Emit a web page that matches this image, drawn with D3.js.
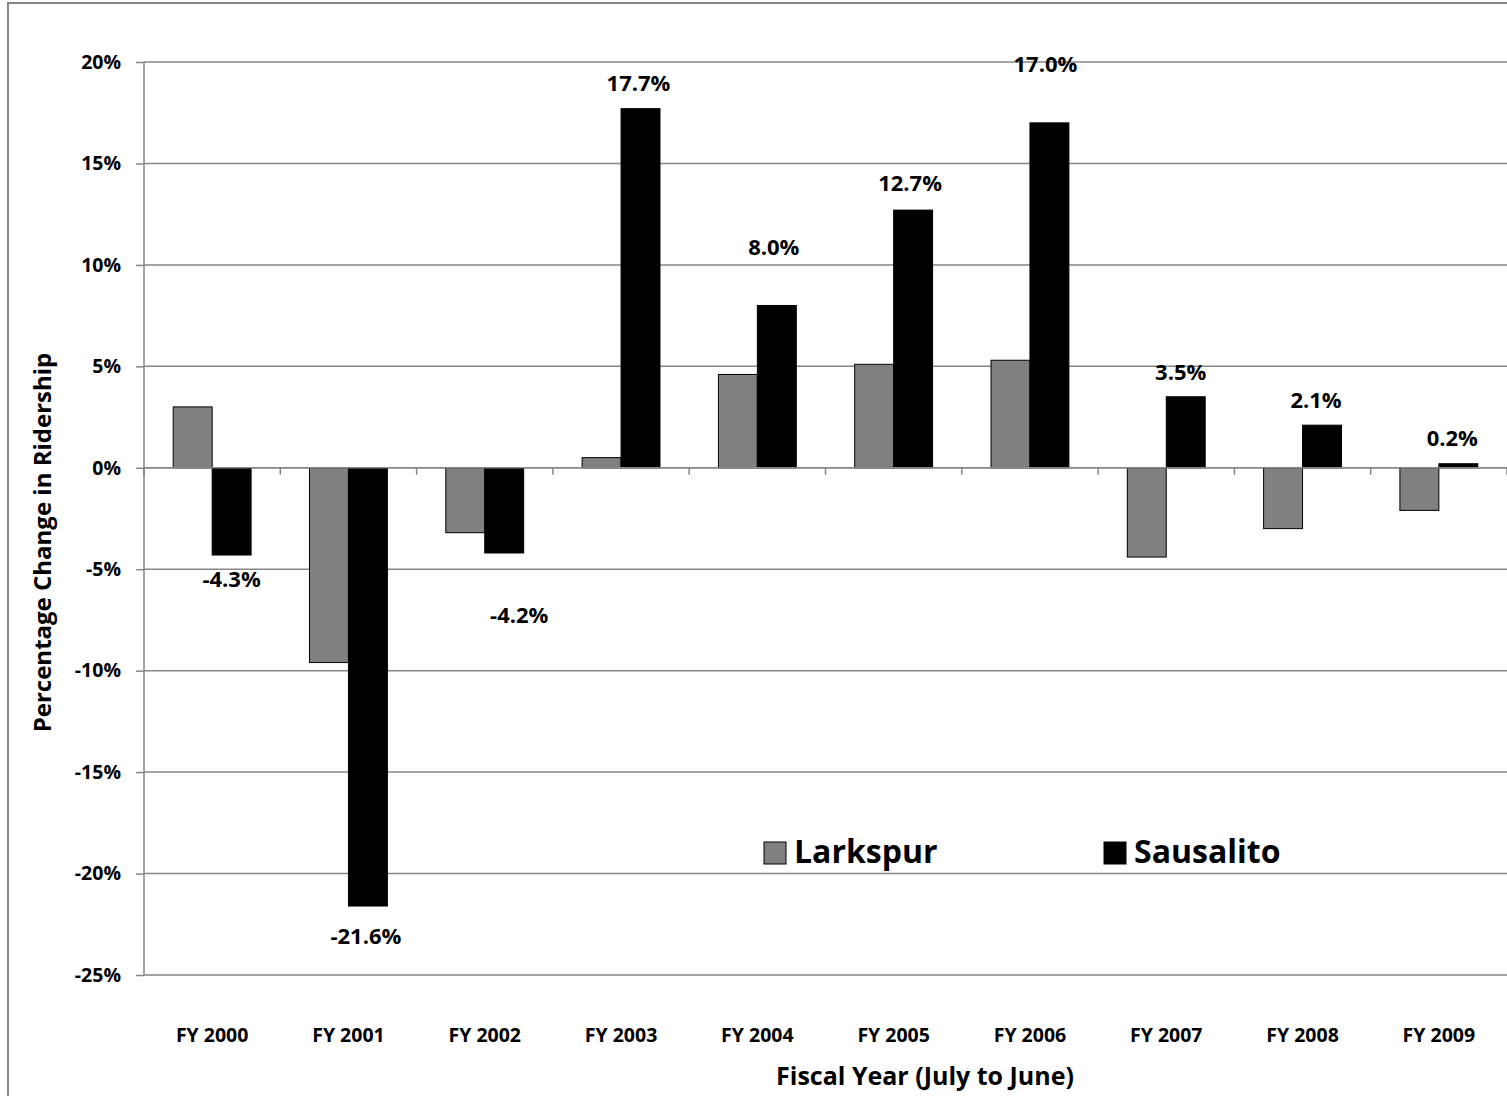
<!DOCTYPE html>
<html>
<head>
<meta charset="utf-8">
<style>
    body { margin: 0; background: #fff; }
    svg { display: block; font-family: 'Open Sans', 'Liberation Sans', sans-serif; font-weight: bold; }
    .y .domain { display: none; }
    .y .tick line { stroke: #868686; stroke-width: 1.5px; }
    .y .tick text { font-family: 'Open Sans', sans-serif; font-size: 19.5px; fill: #000; font-weight: bold; }
    .x .domain { display: none; }
    .x .tick line { display: none; }
    .x .tick text { font-family: 'Open Sans', sans-serif; font-size: 19.5px; fill: #000; font-weight: bold; }
</style>
</head>
<body>
<svg width="1507" height="1096"></svg>

<script src="https://d3js.org/d3.v7.min.js"></script>
<script>
    // data
    const years = ["FY 2000", "FY 2001", "FY 2002", "FY 2003", "FY 2004", "FY 2005", "FY 2006", "FY 2007", "FY 2008", "FY 2009"];
    const seriesNames = ["Larkspur", "Sausalito"];
    const larkspur = [3.0, -9.6, -3.2, 0.5, 4.6, 5.1, 5.3, -4.4, -3.0, -2.1];
    const sausalito = [-4.3, -21.6, -4.2, 17.7, 8.0, 12.7, 17.0, 3.5, 2.1, 0.2];
    const yTicks = [-25, -20, -15, -10, -5, 0, 5, 10, 15, 20];

    const colors = { Larkspur: "#808080", Sausalito: "#000000" };

    // labels were moved around by hand in the original, so nudge them (px)
    const labelNudge = [[0, 26], [-2, 32], [15, 64], [-2, -24], [-3, -56], [-3, -25], [-4, -57], [-5, -23], [-6, -23], [-6, -24]];

    const svg = d3.select("svg");
    const margin = { top: 62, right: 0, bottom: 121, left: 144 };
    const width = 1507, height = 1096;

    // outer chart frame
    svg.append("rect")
        .attr("x", 8).attr("y", 3)
        .attr("width", 1520).attr("height", 1110)
        .attr("fill", "none")
        .attr("stroke", "#868686")
        .attr("stroke-width", 2);

    const x0 = d3.scaleBand()
        .domain(years)
        .range([margin.left, width - margin.right])
        .padding(0);

    const x1 = d3.scaleBand()
        .domain(seriesNames)
        .range([0, x0.bandwidth()])
        .paddingInner(0)
        .paddingOuter(0.75);

    const y = d3.scaleLinear()
        .domain([-25, 20])
        .range([height - margin.bottom, margin.top]);

    // gridlines
    svg.append("g")
        .selectAll("line")
        .data(yTicks)
        .join("line")
        .attr("x1", margin.left)
        .attr("x2", width - margin.right)
        .attr("y1", d => y(d))
        .attr("y2", d => y(d))
        .attr("stroke", "#868686")
        .attr("stroke-width", 1.5);

    // y axis
    svg.append("g")
        .attr("class", "y axis")
        .attr("transform", `translate(${margin.left},0)`)
        .call(d3.axisLeft(y)
            .tickValues(yTicks)
            .tickSize(8)
            .tickPadding(15)
            .tickFormat(d => d + "%"));

    svg.append("line")
        .attr("x1", margin.left).attr("x2", margin.left)
        .attr("y1", y(20)).attr("y2", y(-25))
        .attr("stroke", "#868686")
        .attr("stroke-width", 1.5);

    // category ticks on the zero line
    const bounds = years.map(d => x0(d)).concat([x0(years[years.length - 1]) + x0.bandwidth()]);
    svg.append("g")
        .selectAll("line")
        .data(bounds)
        .join("line")
        .attr("x1", d => d).attr("x2", d => d)
        .attr("y1", y(0)).attr("y2", y(0) + 7)
        .attr("stroke", "#868686")
        .attr("stroke-width", 1.5);

    // bars
    const rows = years.map((yr, i) => ({ year: yr, Larkspur: larkspur[i], Sausalito: sausalito[i] }));

    svg.append("g")
        .selectAll("g")
        .data(rows)
        .join("g")
        .attr("transform", d => `translate(${x0(d.year)},0)`)
        .selectAll("rect")
        .data(d => seriesNames.map(k => ({ key: k, value: d[k] })))
        .join("rect")
        .attr("x", d => x1(d.key))
        .attr("width", x1.bandwidth())
        .attr("y", d => y(Math.max(0, d.value)))
        .attr("height", d => Math.abs(y(d.value) - y(0)))
        .attr("fill", d => colors[d.key])
        .attr("stroke", "#000")
        .attr("stroke-width", 1);

    // zero line over bars
    svg.append("line")
        .attr("x1", margin.left).attr("x2", width - margin.right)
        .attr("y1", y(0)).attr("y2", y(0))
        .attr("stroke", "#868686")
        .attr("stroke-width", 1.5);

    // Sausalito value labels
    svg.append("g")
        .selectAll("text")
        .data(rows)
        .join("text")
        .attr("x", (d, i) => x0(d.year) + x1("Sausalito") + x1.bandwidth() / 2 + labelNudge[i][0])
        .attr("y", (d, i) => y(d.Sausalito) + labelNudge[i][1])
        .attr("text-anchor", "middle")
        .attr("dominant-baseline", "middle")
        .attr("font-size", 22)
        .text(d => d.Sausalito.toFixed(1) + "%");

    // x labels sit at the bottom of the plot
    svg.append("g")
        .attr("class", "x axis")
        .attr("transform", `translate(0,${y(-25)})`)
        .call(d3.axisBottom(x0).tickSize(0).tickPadding(53));

    // axis titles
    svg.append("text")
        .attr("x", 925)
        .attr("y", 1078)
        .attr("text-anchor", "middle")
        .attr("dominant-baseline", "middle")
        .attr("font-size", 25)
        .text("Fiscal Year (July to June)");

    svg.append("text")
        .attr("transform", `translate(45,${(y(20) + y(-25)) / 2 + 24}) rotate(-90)`)
        .attr("text-anchor", "middle")
        .attr("dominant-baseline", "middle")
        .attr("font-size", 24)
        .text("Percentage Change in Ridership");

    // legend
    const legend = svg.append("g")
        .selectAll("g")
        .data(seriesNames)
        .join("g")
        .attr("transform", (d, i) => `translate(${764 + i * 340},842)`);

    legend.append("rect")
        .attr("width", 22).attr("height", 22)
        .attr("fill", d => colors[d])
        .attr("stroke", "#000")
        .attr("stroke-width", 1);

    legend.append("text")
        .attr("x", 30)
        .attr("y", 12)
        .attr("dominant-baseline", "middle")
        .attr("font-size", 32)
        .text(d => d);
</script>
</body>
</html>
